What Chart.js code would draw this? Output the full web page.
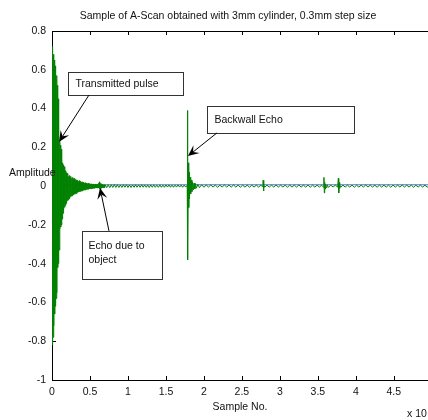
<!DOCTYPE html>
<html><head><meta charset="utf-8">
<script src="https://cdn.jsdelivr.net/npm/chart.js@4"></script>
<style>html,body{margin:0;padding:0;background:#fff}</style>
</head><body>
<canvas id="c" width="428" height="420"></canvas>
<script>
// ---- data (x in units of 10^4 samples, y = amplitude) ----
const titleText = 'Sample of A-Scan obtained with 3mm cylinder, 0.3mm step size';
const xLabel = 'Sample No.';
const yLabel = 'Amplitude';
const xExpLabel = 'x 10';
const xTickStep = 0.5;
const yTickStep = 0.2;
const xRange = [0, 4.95];
const yRange = [-1, 0.8];

// transmitted pulse (alternating peaks)
const pulse = [
 [0.000,0.72],[0.005,-0.82],[0.010,0.70],[0.015,-0.78],[0.020,0.68],[0.025,-0.72],[0.030,0.65],[0.035,-0.66],
 [0.040,0.62],[0.045,-0.62],[0.050,0.60],[0.055,-0.58],[0.060,0.57],[0.065,-0.55],[0.070,0.52],[0.075,-0.42],
 [0.080,0.45],[0.085,-0.40],[0.090,0.26],[0.095,-0.33],
 [0.100,0.23],[0.105,-0.22],[0.110,0.21],[0.115,-0.21],[0.120,0.19],[0.125,-0.20],[0.130,0.16],[0.135,-0.17],
 [0.140,0.12],[0.145,-0.14],[0.150,0.11],[0.155,-0.12],[0.160,0.10],[0.165,-0.11],[0.170,0.085],[0.175,-0.10],
 [0.180,0.08],[0.185,-0.09],[0.190,0.07],[0.195,-0.08],[0.200,0.065]
];
// decaying ringing incl. small echo due to object
const ringing = [
 [0.205,-0.075],[0.210,0.06],[0.215,-0.07],[0.220,0.05],[0.225,-0.065],[0.230,0.055],[0.235,-0.06],[0.240,0.045],
 [0.245,-0.055],[0.250,0.05],[0.255,-0.05],[0.260,0.04],[0.265,-0.05],[0.270,0.045],[0.275,-0.045],[0.280,0.035],
 [0.285,-0.045],[0.290,0.04],[0.295,-0.04],[0.300,0.03],[0.305,-0.04],[0.310,0.035],[0.315,-0.035],[0.320,0.03],
 [0.325,-0.038],[0.330,0.028],[0.335,-0.032],[0.340,0.03],[0.345,-0.03],[0.350,0.025],[0.355,-0.03],[0.360,0.028],
 [0.365,-0.027],[0.370,0.022],[0.375,-0.028],[0.380,0.025],[0.385,-0.025],[0.390,0.02],[0.395,-0.025],[0.400,0.022],
 [0.405,-0.022],[0.410,0.018],[0.415,-0.022],[0.420,0.02],[0.425,-0.02],[0.430,0.016],[0.435,-0.02],[0.440,0.018],
 [0.445,-0.018],[0.450,0.015],[0.455,-0.018],[0.460,0.016],[0.465,-0.016],[0.470,0.013],[0.475,-0.016],[0.480,0.015],
 [0.485,-0.015],[0.490,0.012],[0.495,-0.015],[0.500,0.013],[0.505,-0.013],[0.510,0.011],[0.515,-0.013],[0.520,0.012],
 [0.525,-0.012],[0.530,0.01],[0.535,-0.012],[0.540,0.011],[0.545,-0.011],[0.550,0.01],[0.555,-0.011],[0.560,0.009],
 [0.565,-0.01],[0.570,0.01],[0.575,-0.01],[0.580,0.009],[0.585,-0.01],[0.590,0.008],[0.595,-0.009],[0.600,0.009],
 [0.605,-0.009],[0.610,0.012],[0.615,-0.01],[0.620,0.018],[0.625,-0.015],[0.630,0.022],[0.635,-0.018],[0.640,0.015],
 [0.645,-0.012],[0.650,0.01],[0.655,-0.009],[0.660,0.008],[0.665,-0.008],[0.670,0.008],[0.675,-0.008],[0.680,0.007],
 [0.685,-0.008],[0.690,0.007],[0.695,-0.007],[0.700,0.007]
];
// baseline noise before the backwall echo
const noiseMid = [
 [0.72,-0.008],[0.74,0.007],[0.76,-0.008],[0.78,0.007],[0.80,-0.007],[0.82,0.008],[0.84,-0.007],[0.86,0.007],
 [0.88,-0.007],[0.90,0.006],[0.92,-0.007],[0.94,0.007],[0.96,-0.006],[0.98,0.007],[1.00,-0.007],[1.02,0.006],
 [1.04,-0.007],[1.06,0.006],[1.08,-0.006],[1.10,0.007],[1.12,-0.006],[1.14,0.006],[1.16,-0.006],[1.18,0.007],
 [1.20,-0.006],[1.22,0.006],[1.24,-0.006],[1.26,0.006],[1.28,-0.007],[1.30,0.006],[1.32,-0.006],[1.34,0.006],
 [1.36,-0.006],[1.38,0.005],[1.40,-0.006],[1.42,0.006],[1.44,-0.006],[1.46,0.005],[1.48,-0.006],[1.50,0.006],
 [1.52,-0.005],[1.54,0.006],[1.56,-0.006],[1.58,0.005],[1.60,-0.006],[1.62,0.005],[1.64,-0.005],[1.66,0.006],
 [1.68,-0.005],[1.70,0.005],[1.72,-0.006],[1.74,0.005],[1.76,-0.005],[1.78,0.004],[1.782,-0.004]
];
// backwall echo
const backwall = [
 [1.785,0.39],[1.790,-0.38],[1.795,0.12],[1.800,-0.11],[1.805,0.07],[1.810,-0.065],[1.818,0.045],[1.826,-0.04],
 [1.834,0.03],[1.842,-0.028],[1.85,0.022],[1.86,-0.02],[1.87,0.016],[1.88,-0.015],[1.89,0.012],[1.90,-0.011],
 [1.92,0.009],[1.94,-0.008],[1.97,0.007],[2.00,-0.006]
];
// baseline noise and small reflections after the backwall echo
const noiseLate = [
 [2.03,0.006],[2.06,-0.005],[2.09,0.006],[2.12,-0.005],[2.15,0.005],[2.18,-0.006],[2.21,0.005],[2.24,-0.005],
 [2.27,0.006],[2.30,-0.005],[2.33,0.005],[2.36,-0.005],[2.39,0.006],[2.42,-0.005],[2.45,0.005],[2.48,-0.006],
 [2.51,0.005],[2.54,-0.005],[2.57,0.005],[2.60,-0.006],[2.63,0.005],[2.66,-0.005],[2.69,0.005],[2.72,-0.005],
 [2.75,0.005],[2.775,-0.005],[2.78,0.03],[2.785,-0.025],[2.79,0.008],[2.80,-0.006],
 [2.83,0.005],[2.86,-0.005],[2.89,0.005],[2.92,-0.005],[2.95,0.006],[2.98,-0.005],[3.01,0.005],[3.04,-0.005],
 [3.07,0.005],[3.10,-0.006],[3.13,0.005],[3.16,-0.005],[3.19,0.005],[3.22,-0.005],[3.25,0.006],[3.28,-0.005],
 [3.31,0.005],[3.34,-0.005],[3.37,0.005],[3.40,-0.006],[3.43,0.005],[3.46,-0.005],[3.49,0.005],[3.52,-0.005],
 [3.55,0.005],[3.575,-0.006],[3.58,0.045],[3.585,-0.035],[3.59,0.02],[3.595,-0.015],[3.60,0.01],[3.61,-0.008],
 [3.62,0.007],[3.64,-0.006],[3.67,0.005],[3.70,-0.005],[3.73,0.005],[3.76,-0.005],
 [3.77,0.04],[3.775,-0.035],[3.78,0.018],[3.785,-0.012],[3.79,0.008],[3.80,-0.006],
 [3.83,0.005],[3.86,-0.005],[3.89,0.005],[3.92,-0.005],[3.95,0.005],[3.98,-0.006],[4.01,0.005],[4.04,-0.005],
 [4.07,0.005],[4.10,-0.005],[4.13,0.006],[4.16,-0.005],[4.19,0.005],[4.22,-0.005],[4.25,0.005],[4.28,-0.006],
 [4.31,0.005],[4.34,-0.005],[4.37,0.005],[4.40,-0.005],[4.43,0.005],[4.46,-0.006],[4.49,0.005],[4.52,-0.005],
 [4.55,0.005],[4.58,-0.005],[4.61,0.006],[4.64,-0.005],[4.67,0.005],[4.70,-0.005],[4.73,0.005],[4.76,-0.006],
 [4.79,0.005],[4.82,-0.005],[4.85,0.005],[4.88,-0.005],[4.91,0.005],[4.94,-0.005],[4.97,0.005]
];
// second (blue) trace, lying on the zero line
const baseTrace = [[0, 0.007], [4.97, 0.007]];

// annotation boxes (data coordinates)
const notes = [
  {lines:['Transmitted pulse'], box:[0.21,0.589,1.724,0.470], from:[0.487,0.470], to:[0.092,0.228]},
  {lines:['Backwall Echo'], box:[2.04,0.413,3.97,0.274], from:[2.17,0.274], to:[1.79,0.155]},
  {lines:['Echo due to','object'], box:[0.395,-0.231,1.447,-0.479], from:[0.75,-0.231], to:[0.632,-0.0097]}
];

const FAMILY = '"Liberation Sans", Arial, Helvetica, sans-serif';
const FSIZE = 10.5;
const FONT = FSIZE + 'px ' + FAMILY;
const TXT = '#111';
const fmt = v => String(+Number(v).toFixed(3));

function drawArrow(ctx, x0, y0, x1, y1) {
  const dx = x1 - x0, dy = y1 - y0, len = Math.hypot(dx, dy);
  const ux = dx / len, uy = dy / len, nx = -uy, ny = ux;
  const L = 11, W = 5;
  const bx = x1 - ux * L, by = y1 - uy * L;
  const mx = x1 - ux * L * 0.6, my = y1 - uy * L * 0.6;
  ctx.beginPath(); ctx.moveTo(x0, y0); ctx.lineTo(mx, my); ctx.stroke();
  ctx.beginPath();
  ctx.moveTo(x1, y1);
  ctx.lineTo(bx + nx * W, by + ny * W);
  ctx.lineTo(mx, my);
  ctx.lineTo(bx - nx * W, by - ny * W);
  ctx.closePath(); ctx.fill();
}

const decor = {
  id: 'decor',
  beforeDatasetsDraw(chart) {
    const {ctx, chartArea: {left, top, right, bottom}, scales: {x, y}} = chart;
    ctx.save();
    ctx.strokeStyle = '#000'; ctx.lineWidth = 1;
    ctx.beginPath();
    ctx.moveTo(left + 0.5, top); ctx.lineTo(left + 0.5, bottom + 0.5);
    ctx.moveTo(left, bottom + 0.5); ctx.lineTo(right, bottom + 0.5);
    ctx.moveTo(left, top + 0.5); ctx.lineTo(right, top + 0.5);
    x.ticks.forEach(t => {
      const p = Math.round(x.getPixelForValue(t.value)) + 0.5;
      ctx.moveTo(p, bottom); ctx.lineTo(p, bottom - 4);
      ctx.moveTo(p, top); ctx.lineTo(p, top + 4);
    });
    y.ticks.forEach(t => {
      const p = Math.round(y.getPixelForValue(t.value)) + 0.5;
      ctx.moveTo(left, p); ctx.lineTo(left + 4, p);
    });
    ctx.stroke();
    ctx.restore();
  },
  afterDraw(chart) {
    const {ctx, scales: {x, y}} = chart;
    ctx.save();
    ctx.font = FONT; ctx.fillStyle = TXT; ctx.textBaseline = 'middle';
    ctx.textAlign = 'center';
    ctx.fillText(titleText, 228, 16);
    ctx.fillText(xLabel, 240, 407);
    ctx.textAlign = 'left';
    ctx.fillText(yLabel, 9, 173);
    ctx.fillText(xExpLabel, 407, 414);
    notes.forEach(n => {
      const bx0 = Math.round(x.getPixelForValue(n.box[0])) + 0.5;
      const by0 = Math.round(y.getPixelForValue(n.box[1])) + 0.5;
      const bx1 = Math.round(x.getPixelForValue(n.box[2])) + 0.5;
      const by1 = Math.round(y.getPixelForValue(n.box[3])) + 0.5;
      ctx.fillStyle = '#fff';
      ctx.fillRect(bx0, by0, bx1 - bx0, by1 - by0);
      ctx.strokeStyle = '#333'; ctx.lineWidth = 1;
      ctx.strokeRect(bx0, by0, bx1 - bx0, by1 - by0);
      ctx.fillStyle = TXT;
      const h = by1 - by0;
      if (n.lines.length === 1) {
        ctx.fillText(n.lines[0], bx0 + 7, by0 + h / 2);
      } else {
        n.lines.forEach((s, i) => ctx.fillText(s, bx0 + 6, by0 + 15 + i * 14));
      }
      ctx.strokeStyle = '#000'; ctx.fillStyle = '#000';
      drawArrow(ctx, x.getPixelForValue(n.from[0]), y.getPixelForValue(n.from[1]),
                x.getPixelForValue(n.to[0]), y.getPixelForValue(n.to[1]));
    });
    ctx.restore();
  }
};

const toXY = arr => arr.map(p => ({x: p[0], y: p[1]}));
const signal = [].concat(pulse, ringing, noiseMid, backwall, noiseLate);

new Chart(document.getElementById('c'), {
  type: 'line',
  data: {
    datasets: [
      {data: toXY(baseTrace), borderColor: 'rgb(80,115,215)', borderWidth: 1, pointRadius: 0, order: 2},
      {data: toXY(signal), borderColor: '#008000', borderWidth: 1, pointRadius: 0, order: 1}
    ]
  },
  options: {
    responsive: false,
    animation: false,
    events: [],
    layout: {padding: {top: 31, left: 0, right: 0, bottom: 0}},
    elements: {line: {tension: 0}},
    plugins: {legend: {display: false}, tooltip: {enabled: false}, title: {display: false}},
    scales: {
      x: {
        type: 'linear', min: xRange[0], max: xRange[1],
        grid: {display: false, drawTicks: false, tickLength: 0}, border: {display: false},
        ticks: {stepSize: xTickStep, includeBounds: false, padding: 6, color: TXT, maxRotation: 0,
                font: {family: FAMILY, size: FSIZE}, callback: v => fmt(v)},
        afterFit: s => { s.height = 40; }
      },
      y: {
        type: 'linear', min: yRange[0], max: yRange[1],
        grid: {display: false, drawTicks: false, tickLength: 0}, border: {display: false},
        ticks: {stepSize: yTickStep, padding: 6, color: TXT,
                font: {family: FAMILY, size: FSIZE}, callback: v => fmt(v)},
        afterFit: s => { s.width = 52; }
      }
    }
  },
  plugins: [decor]
});
</script>
</body></html>
